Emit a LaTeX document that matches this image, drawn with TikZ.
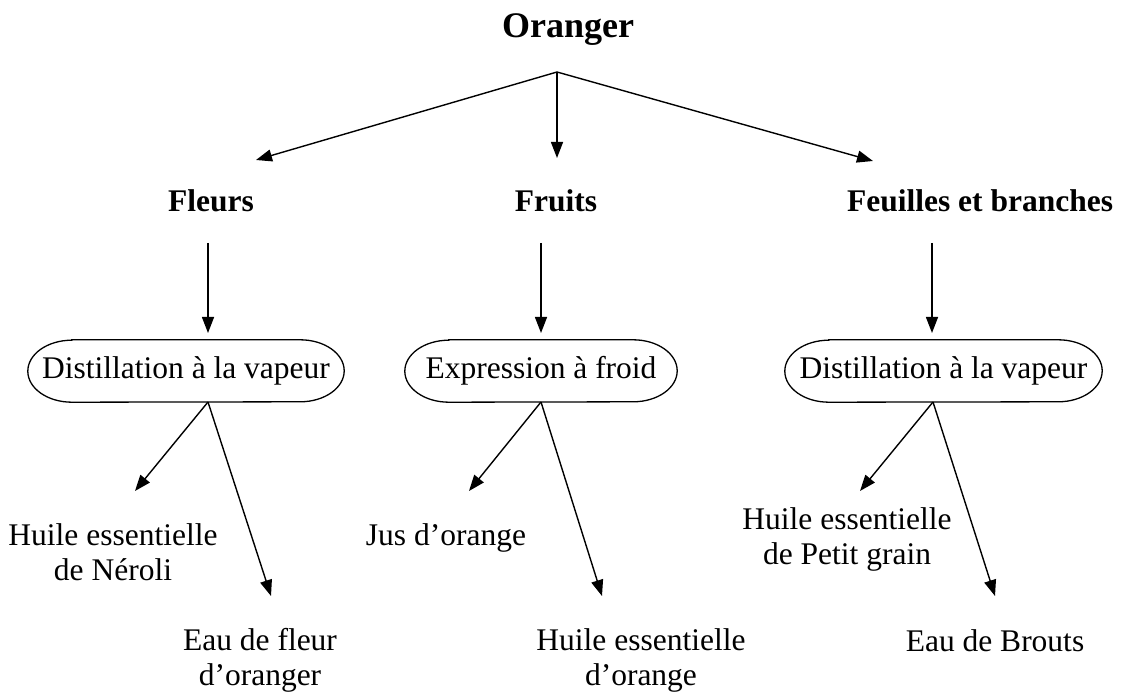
\documentclass[tikz,border=0pt]{standalone}
\usepackage{fontspec}
\setmainfont{Liberation Serif}
\usetikzlibrary{arrows.meta}
\begin{document}
\begin{tikzpicture}[x=1pt,y=-1pt,
  txt/.style={font=\fontsize{31.5}{35}\selectfont, inner sep=0pt, anchor=base, align=center},
  head/.style={font=\fontsize{31.5}{35}\selectfont\bfseries, inner sep=0pt, anchor=base},
  title/.style={font=\fontsize{36}{40}\selectfont\bfseries, inner sep=0pt, anchor=base},
  oval/.style={rectangle, inner sep=0pt, minimum height=62pt, font=\fontsize{31.5}{35}\selectfont},
  ovalline/.style={line width=1.3pt},
  arr/.style={line width=1.4pt, -{Triangle[length=16pt,width=12pt]}},
]
\useasboundingbox (0,0) rectangle (1122,692);
% titles
\node[title] (oranger) at (568,38) {Oranger};
\node[head] (fleurs) at (211,212) {Fleurs};
\node[head] (fruits) at (556,212) {Fruits};
\node[head] (feuilles) at (980,212) {Feuilles et branches};
% ovals
\node[oval, minimum width=316pt] (d1) at (186,371) {Distillation à la vapeur};
\node[oval, minimum width=272pt] (ex) at (541,371) {Expression à froid};
\node[oval, minimum width=317pt] (d2) at (943.5,371) {Distillation à la vapeur};
\foreach \n in {d1,ex,d2}{
  \draw[ovalline] ([xshift=44pt]\n.north west) -- ([xshift=-44pt]\n.north east)
    arc[start angle=90, end angle=-90, x radius=44pt, y radius=31pt]
    -- ([xshift=44pt]\n.south west)
    arc[start angle=270, end angle=90, x radius=44pt, y radius=31pt] -- cycle;
}
% products
\node[txt] (neroli) at (113,580) {Huile essentielle\\de Néroli};
\node[txt] (fleur) at (260,685) {Eau de fleur\\d’oranger};
\node[txt] (jus) at (446,545) {Jus d’orange};
\node[txt] (hor) at (641,685) {Huile essentielle\\d’orange};
\node[txt] (petit) at (847,564) {Huile essentielle\\de Petit grain};
\node[txt] (brouts) at (995,651) {Eau de Brouts};
% connector points
\coordinate (s0) at (557,72);
\coordinate (t1) at (256,160);
\coordinate (t2) at (557,158);
\coordinate (t3) at (873,161);
\coordinate (f1) at (208,243);
\coordinate (f2) at (541,243);
\coordinate (f3) at (932,243);
\coordinate (o1) at (208,333);
\coordinate (o2) at (541,333);
\coordinate (o3) at (932,333);
\coordinate (b1) at (208,402);
\coordinate (b2) at (541,402);
\coordinate (b3) at (933,402);
\coordinate (n1) at (135,491);
\coordinate (e1) at (271,596);
\coordinate (j2) at (469,491);
\coordinate (h2) at (602,596);
\coordinate (p3) at (860,491);
\coordinate (r3) at (995,596);
% connectors
\draw[arr] (s0) -- (t1);
\draw[arr] (s0) -- (t2);
\draw[arr] (s0) -- (t3);
\draw[arr] (f1) -- (o1);
\draw[arr] (f2) -- (o2);
\draw[arr] (f3) -- (o3);
\draw[arr] (b1) -- (n1);
\draw[arr] (b1) -- (e1);
\draw[arr] (b2) -- (j2);
\draw[arr] (b2) -- (h2);
\draw[arr] (b3) -- (p3);
\draw[arr] (b3) -- (r3);
\end{tikzpicture}
\end{document}
